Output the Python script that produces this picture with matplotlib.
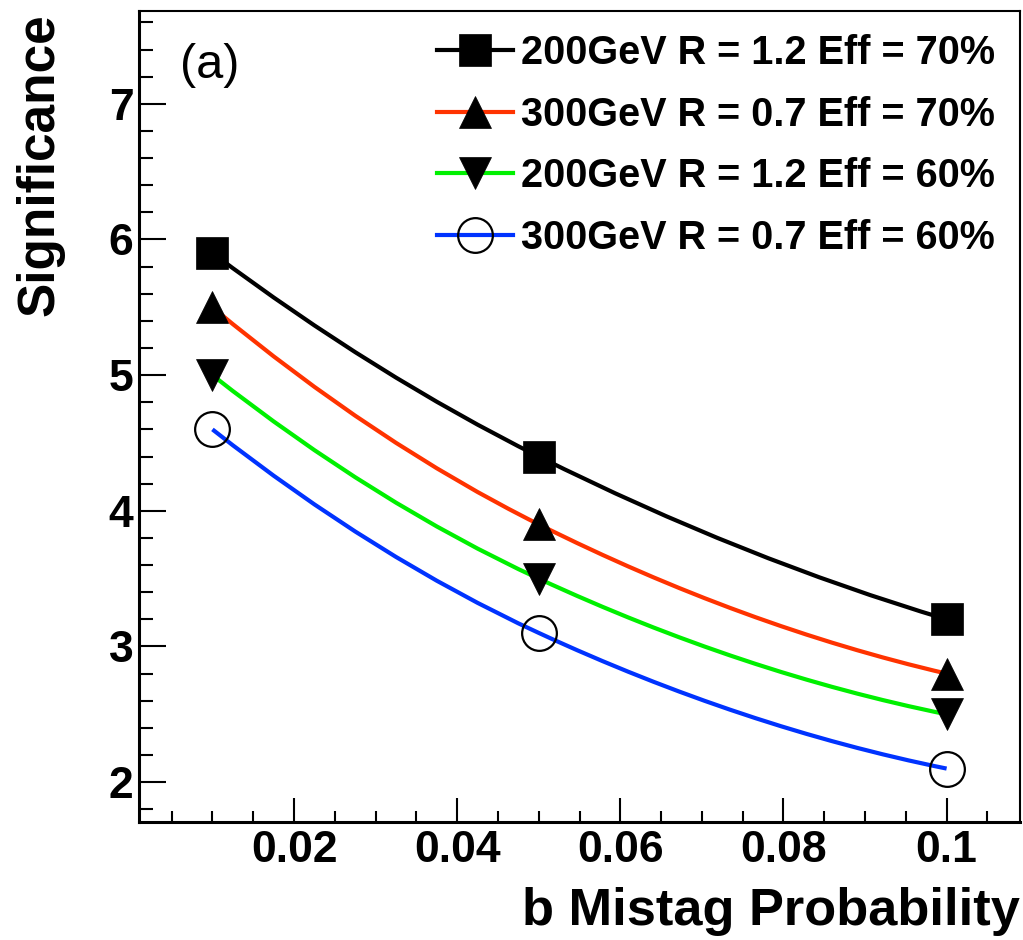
import matplotlib.pyplot as plt
from matplotlib.lines import Line2D
from matplotlib.path import Path
from matplotlib.patches import PathPatch
from matplotlib.ticker import MultipleLocator

plt.rcParams['font.family'] = ['Liberation Sans', 'DejaVu Sans']

# data
mistag = [0.01, 0.05, 0.1]
sig_200_r12_eff70 = [5.9, 4.4, 3.2]
sig_300_r07_eff70 = [5.5, 3.9, 2.8]
sig_200_r12_eff60 = [5.0, 3.5, 2.5]
sig_300_r07_eff60 = [4.6, 3.1, 2.1]
series = [sig_200_r12_eff70, sig_300_r07_eff70, sig_200_r12_eff60, sig_300_r07_eff60]
labels = ['200GeV R = 1.2 Eff = 70%', '300GeV R = 0.7 Eff = 70%',
          '200GeV R = 1.2 Eff = 60%', '300GeV R = 0.7 Eff = 60%']
xtick_vals = [0.02, 0.04, 0.06, 0.08, 0.1]
xtick_labels = ['0.02', '0.04', '0.06', '0.08', '0.1']
ytick_vals = [2, 3, 4, 5, 6, 7]
ytick_labels = ['2', '3', '4', '5', '6', '7']

# style
line_colors = ['black', '#ff3300', '#00f000', '#0033ff']
markers = ['s', '^', 'v', 'o']
marker_sizes = [23, 23, 23, 25]


def smooth_path(x, y):
    # smooth curve through the points (cubic bezier pieces)
    n = len(x)
    slopes = [(y[i+1] - y[i]) / (x[i+1] - x[i]) for i in range(n - 1)]
    tang = [0.0] * n
    for i in range(1, n - 1):
        tang[i] = (y[i+1] - y[i-1]) / (x[i+1] - x[i-1])
    tang[0] = 2 * slopes[0] - tang[1]
    tang[-1] = 2 * slopes[-1] - tang[-2]
    verts = [(x[0], y[0])]
    codes = [Path.MOVETO]
    for i in range(n - 1):
        h = (x[i+1] - x[i]) / 3
        verts += [(x[i] + h, y[i] + h * tang[i]),
                  (x[i+1] - h, y[i+1] - h * tang[i+1]),
                  (x[i+1], y[i+1])]
        codes += [Path.CURVE4] * 3
    return Path(verts, codes)


fig = plt.figure(figsize=(10.23, 9.40), dpi=100)
ax = fig.add_axes([0.1359, 0.1255, 0.8612, 0.8628])

handles = []
for y, lab, col, mk, ms in zip(series, labels, line_colors, markers, marker_sizes):
    ax.add_patch(PathPatch(smooth_path(mistag, y), fill=False, edgecolor=col,
                           lw=3.0, capstyle='butt', zorder=2))
    if mk == 'o':
        ax.plot(mistag, y, linestyle='none', marker=mk, ms=ms, mfc='none',
                mec='black', mew=1.6, zorder=3)
        h = Line2D([], [], color=col, lw=3.0, marker=mk, ms=ms, mfc='none',
                   mec='black', mew=1.6)
    else:
        ax.plot(mistag, y, linestyle='none', marker=mk, ms=ms, mfc='black',
                mec='black', mew=0.5, zorder=3)
        h = Line2D([], [], color=col, lw=3.0, marker=mk, ms=ms, mfc='black',
                   mec='black', mew=0.5)
    handles.append(h)

ax.set_xlim(0.001, 0.109)
ax.set_ylim(1.706, 7.684)
ax.set_xticks(xtick_vals)
ax.set_xticklabels(xtick_labels)
ax.set_yticks(ytick_vals)
ax.set_yticklabels(ytick_labels)
ax.xaxis.set_minor_locator(MultipleLocator(0.005))
ax.yaxis.set_minor_locator(MultipleLocator(0.2))
ax.tick_params(which='both', direction='in', top=False, right=False, width=1.5)
ax.tick_params(axis='x', which='major', length=17, pad=6, labelsize=32)
ax.tick_params(axis='x', which='minor', length=8)
ax.tick_params(axis='y', which='major', length=19.5, pad=4, labelsize=32)
ax.tick_params(axis='y', which='minor', length=10)
for lab in ax.get_xticklabels() + ax.get_yticklabels():
    lab.set_fontweight('bold')

for side in ['left', 'bottom']:
    ax.spines[side].set_linewidth(2.2)
for side in ['top', 'right']:
    ax.spines[side].set_linewidth(1.5)

ax.set_xlabel('b Mistag Probability', fontsize=37.7, fontweight='bold', loc='right')
ax.xaxis.set_label_coords(1.0, -0.08)
ax.set_ylabel('Significance', fontsize=37, fontweight='bold', loc='top')
ax.yaxis.set_label_coords(-0.084, 0.997)

ax.text(0.046, 0.96, '(a)', transform=ax.transAxes, fontsize=35, va='top', ha='left')

ax.legend(handles, labels, loc='upper left', bbox_to_anchor=(0.427, 0.964),
          bbox_transform=fig.transFigure, frameon=False, borderpad=0,
          borderaxespad=0, handlelength=1.92, handletextpad=0.2,
          labelspacing=0.6, prop={'size': 28.5, 'weight': 'bold'})

fig.savefig('out.png', dpi=100)
